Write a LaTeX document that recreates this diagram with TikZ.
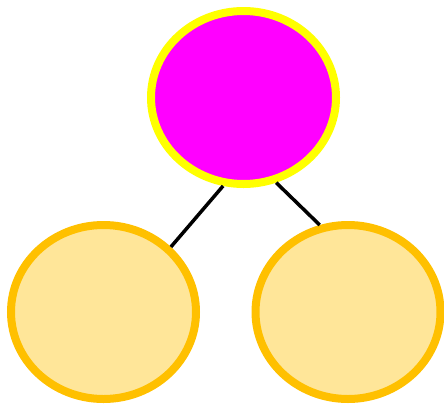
\documentclass[tikz,border=0pt]{standalone}
\usepackage{tikz}
\usetikzlibrary{shapes.geometric}
\definecolor{rootfill}{HTML}{FF00FF}
\definecolor{rootline}{HTML}{FFFF00}
\definecolor{leaffill}{HTML}{FFE699}
\definecolor{leafline}{HTML}{FFC000}
\tikzset{
  rt/.style={ellipse,draw=rootline,fill=rootfill,minimum width=185pt,minimum height=173pt,inner sep=0pt,line width=8pt},
  lf/.style={ellipse,draw=leafline,fill=leaffill,minimum width=185pt,minimum height=174pt,inner sep=0pt,line width=8pt},
  lnk/.style={draw=black,line width=3.5pt},
}
\begin{document}
\begin{tikzpicture}[x=1pt,y=-1pt]
\useasboundingbox (0,0) rectangle (444,405);
% the root and its two children
\node[rt] (R) at (243.5,97.5) {};
\node[lf] (L) at (103.5,312) {};
\node[lf] (C) at (348,312) {};
\draw[lnk] (R.257) -- (L.44);
\draw[lnk] (R.291) -- (C.108);
\end{tikzpicture}
\end{document}
